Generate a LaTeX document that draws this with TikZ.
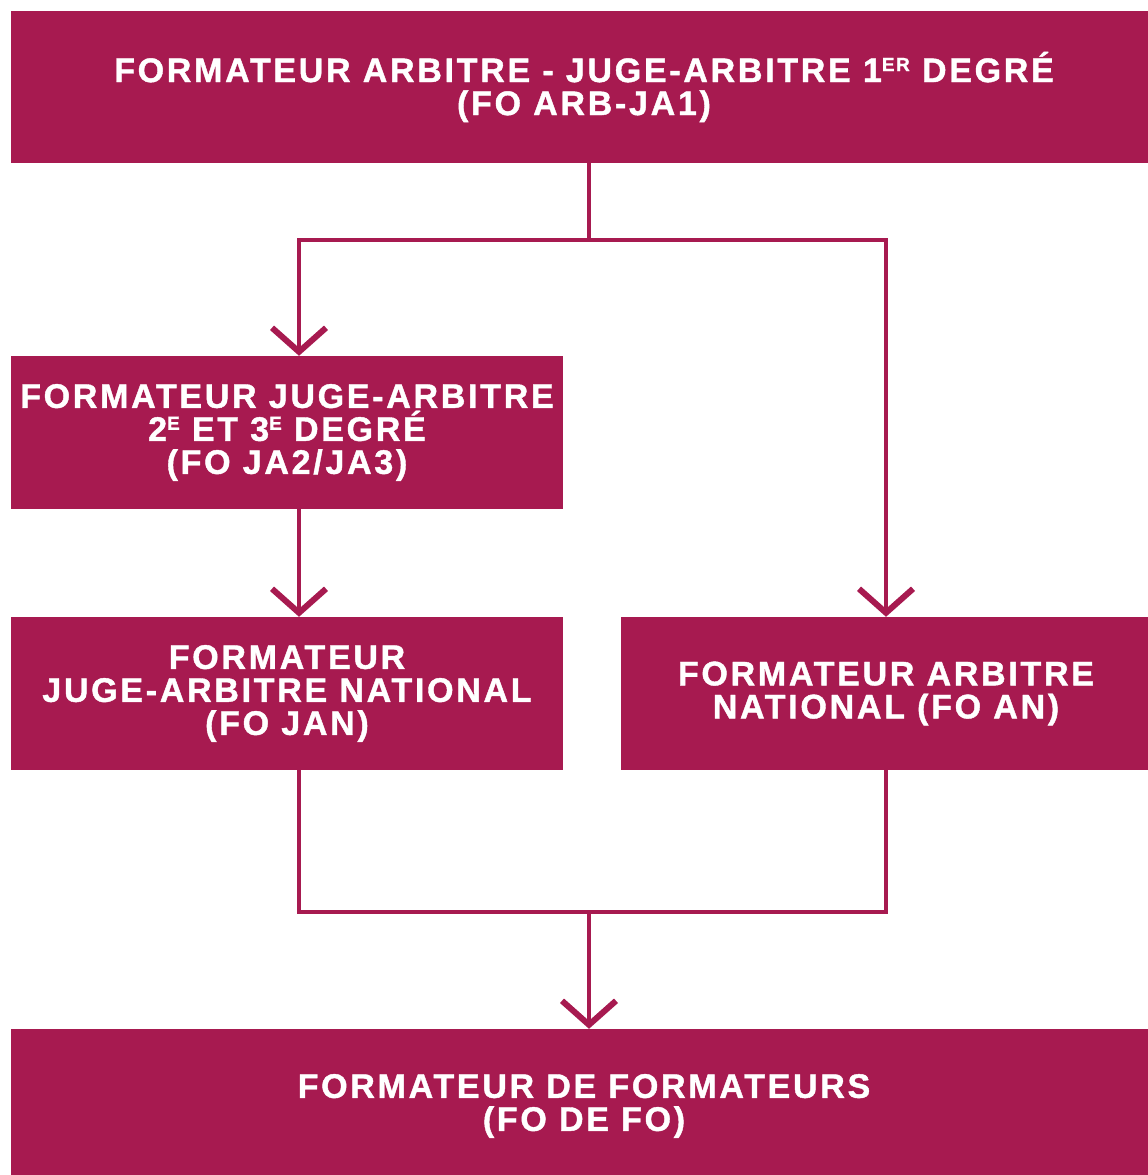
\documentclass[tikz,border=0pt]{standalone}
\usepackage{fontspec}
\setmainfont{Liberation Sans}[LetterSpace=8,BoldFeatures={FakeBold=1.2}]
\usetikzlibrary{arrows.meta}
\definecolor{ffr}{HTML}{A71A50}
\newcommand{\sups}[1]{\raisebox{11pt}{\fontsize{19}{19}\selectfont #1}}
\begin{document}
\begin{tikzpicture}[x=1pt,y=-1pt,
 box/.style={fill=ffr,text=white,inner sep=0pt,align=center,font=\fontsize{34}{33}\selectfont\bfseries},
 conn/.style={draw=ffr,line width=4.5pt,-{Straight Barb[length=24pt,width=54pt,line width=6pt]}},
 link/.style={draw=ffr,line width=4.5pt}]
\useasboundingbox (0,0) rectangle (1148,1175);
\clip (0,0) rectangle (1148,1175);
\node[box,minimum width=1146pt,minimum height=152pt] (top) at (584,87) {FORMATEUR ARBITRE - JUGE-ARBITRE 1\sups{ER} DEGRÉ\\(FO ARB-JA1)};
\node[box,minimum width=552pt,minimum height=153pt] (leftA) at (287,432.5) {FORMATEUR JUGE-ARBITRE\\2\sups{E} ET 3\sups{E} DEGRÉ\\(FO JA2/JA3)};
\node[box,minimum width=552pt,minimum height=153pt] (leftB) at (287,693.5) {FORMATEUR\\JUGE-ARBITRE NATIONAL\\(FO JAN)};
\node[box,minimum width=530pt,minimum height=153pt] (rightA) at (886,693.5) {FORMATEUR ARBITRE\\NATIONAL (FO AN)};
\node[box,minimum width=1146pt,minimum height=154pt] (bot) at (584,1106) {FORMATEUR DE FORMATEURS\\(FO DE FO)};
\coordinate (jt) at (589,240);
\coordinate (xl) at (299,0);
\coordinate (jb) at (589,912);
\draw[link] (top.south -| jt) -- (jt);
\draw[conn] (jt) -| (xl |- leftA.north);
\draw[conn] (jt) -| (rightA.north);
\draw[conn] (leftA.south -| xl) -- (xl |- leftB.north);
\draw[link] (leftB.south -| xl) |- (jb);
\draw[link] (rightA.south) |- (jb);
\draw[conn] (jb) -- (bot.north -| jb);
\end{tikzpicture}
\end{document}
